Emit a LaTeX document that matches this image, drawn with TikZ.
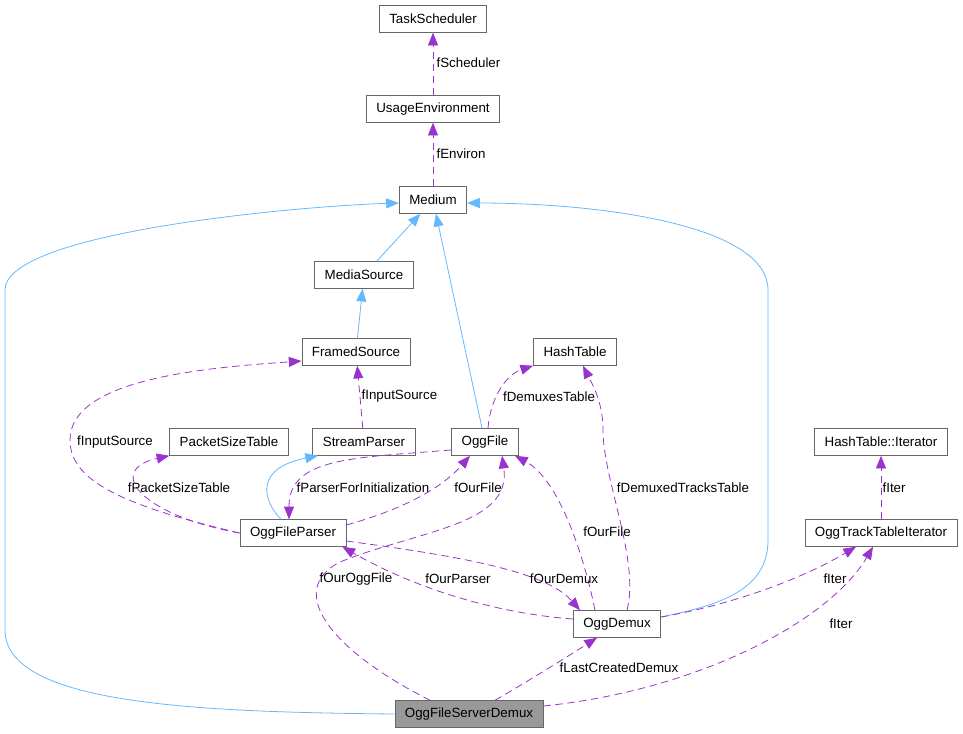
\documentclass[tikz,border=0pt]{standalone}
\usepackage{fontspec}
\setmainfont{Liberation Sans}
\usetikzlibrary{arrows.meta}
\definecolor{edgeblue}{HTML}{63B8FF}
\definecolor{edgeviolet}{HTML}{9A32CD}
\definecolor{boxline}{HTML}{666666}
\definecolor{boxgray}{HTML}{999999}
\begin{document}
\begin{tikzpicture}[x=0.75pt,y=-0.75pt,
  cls/.style={draw=boxline,fill=white,line width=0.6pt,inner xsep=7.5pt,inner ysep=0pt,
    minimum height=20pt,font=\fontsize{10}{12}\selectfont},
  inh/.style={draw=edgeblue,line width=0.6pt,-{Triangle[length=9.5pt,width=7.5pt]}},
  use/.style={draw=edgeviolet,line width=0.6pt,dash pattern=on 5.5pt off 3.5pt,
    -{Triangle[length=9.5pt,width=7.5pt,fill=edgeviolet]}},
  lbl/.style={font=\fontsize{10}{12}\selectfont,inner sep=1pt}]
\useasboundingbox (0,0) rectangle (963,733);

\node[cls] (task) at (433,19) {TaskScheduler};
\node[cls] (usage) at (433,109) {UsageEnvironment};
\node[cls] (medium) at (433,200) {Medium};
\node[cls] (mediasrc) at (364,275) {MediaSource};
\node[cls] (framed) at (356,352) {FramedSource};
\node[cls] (hash) at (575,352) {HashTable};
\node[cls] (pst) at (229,442) {PacketSizeTable};
\node[cls] (stream) at (364,442) {StreamParser};
\node[cls] (oggfile) at (485,442) {OggFile};
\node[cls] (hashit) at (881,442) {HashTable::Iterator};
\node[cls] (ofp) at (293,533) {OggFileParser};
\node[cls] (ottit) at (881,533) {OggTrackTableIterator};
\node[cls] (ogdemux) at (617,624) {OggDemux};
\node[cls,fill=boxgray] (ofsd) at (469,714) {OggFileServerDemux};

% inheritance
\draw[inh] (mediasrc) -- (medium);
\draw[inh] (framed) -- (mediasrc);
\draw[inh] (oggfile) -- (medium);
\draw[inh] ([shift={(-12,0)}]ofp.north) .. controls (262,500) and (255,468) .. ([shift={(-46,0)}]stream.south);
\draw[inh] (ofsd.west) .. controls (200,712) and (5,705) .. (5,630) -- (5,290)
  .. controls (5,232) and (300,206) .. ([shift={(0,3)}]medium.west);
\draw[inh] ([shift={(0,-7)}]ogdemux.east) .. controls (720,605) and (768,590) .. (768,540) -- (768,290)
  .. controls (768,225) and (600,203) .. ([shift={(0,3)}]medium.east);

% members
\draw[use] (medium) -- (usage);
\node[lbl,anchor=west] (lenv) at (435,154) {fEnviron};
\draw[use] (usage) -- (task);
\node[lbl,anchor=west] (lsched) at (435,63) {fScheduler};

\draw[use] (stream) -- (framed);
\node[lbl,anchor=west] (lin1) at (360,396) {fInputSource};
\draw[use] (ofp.west) .. controls (120,505) and (70,480) .. (70,440)
  .. controls (70,380) and (200,368) .. ([shift={(0,9)}]framed.west);
\node[lbl] (lin2) at (115,442) {fInputSource};
\draw[use] (ofp.west) .. controls (140,515) and (105,470) .. (pst.south west);
\node[lbl] (lpst) at (179,488) {fPacketSizeTable};

\draw[use] ([shift={(0,8)}]oggfile.west) .. controls (350,458) and (289,458) .. ([shift={(-4,0)}]ofp.north);
\node[lbl] (lpfi) at (363,488) {fParserForInitialization};
\draw[use] ([shift={(0,-8)}]ofp.east) .. controls (400,510) and (440,490) .. ([shift={(-15,0)}]oggfile.south);
\node[lbl] (lof1) at (478,488) {fOurFile};
\draw[use] ([shift={(-22,0)}]ogdemux.north) .. controls (585,560) and (560,480) .. ([shift={(30,0)}]oggfile.south);
\node[lbl] (lof2) at (607,532) {fOurFile};
\draw[use] ([shift={(-39,0)}]ofsd.north) .. controls (330,650) and (285,590) .. (340,562)
  .. controls (420,530) and (512,525) .. ([shift={(17,0)}]oggfile.south);
\node[lbl] (logf) at (356,579) {fOurOggFile};

\draw[use] ([shift={(3,0)}]oggfile.north) .. controls (490,400) and (505,375) .. (hash.south west);
\node[lbl] (ldt) at (549,397) {fDemuxesTable};
\draw[use] ([shift={(10,0)}]ogdemux.north) .. controls (640,560) and (603,480) .. (603,430)
  .. controls (603,400) and (590,380) .. ([shift={(8,0)}]hash.south);
\node[lbl] (ldtt) at (683,488) {fDemuxedTracksTable};

\draw[use] ([shift={(0,8)}]ofp.east) .. controls (450,555) and (545,570) .. ([shift={(-37,0)}]ogdemux.north);
\node[lbl] (lod) at (564,579) {fOurDemux};
\draw[use] ([shift={(0,-5)}]ogdemux.west) .. controls (480,612) and (400,580) .. ([shift={(-4,0)}]ofp.south east);
\node[lbl] (lop) at (458,579) {fOurParser};
\draw[use] ([shift={(26,0)}]ofsd.north) .. controls (530,680) and (570,655) .. ([shift={(-20,0)}]ogdemux.south);
\node[lbl] (llcd) at (619,668) {fLastCreatedDemux};

\draw[use] ([shift={(0,-7)}]ogdemux.east) .. controls (730,605) and (800,580) .. ([shift={(-25,0)}]ottit.south);
\node[lbl] (lit1) at (835,579) {fIter};
\draw[use] ([shift={(0,-8)}]ofsd.east) .. controls (700,690) and (830,620) .. ([shift={(-8,0)}]ottit.south);
\node[lbl] (lit2) at (841,624) {fIter};
\draw[use] (ottit) -- (hashit);
\node[lbl,anchor=west] (lit3) at (881,488) {fIter};
\end{tikzpicture}
\end{document}
